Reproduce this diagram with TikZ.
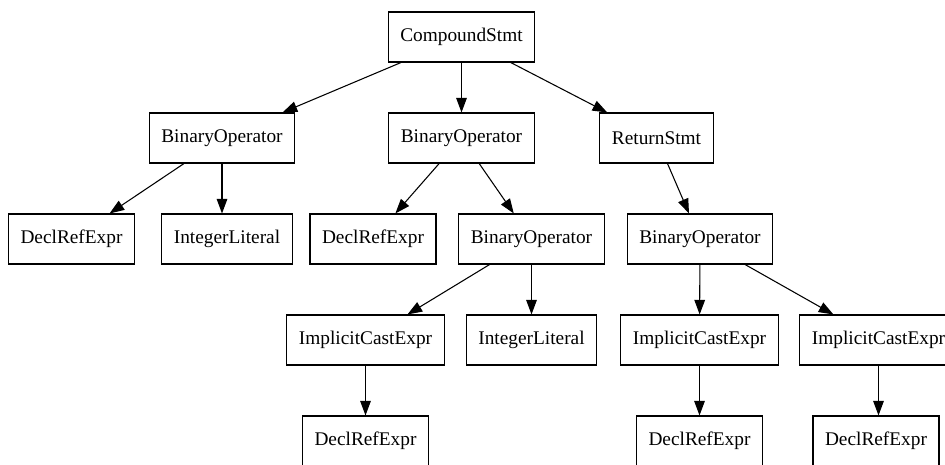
\documentclass[tikz,border=0pt]{standalone}
\usepackage{fontspec}
\setmainfont{Liberation Serif}
\usetikzlibrary{arrows.meta}
\begin{document}
\begin{tikzpicture}[x=0.75pt,y=-0.75pt,
  ast/.style={draw, line width=0.8pt, rectangle, inner xsep=9pt,
    minimum height=37.5pt, font=\fontsize{14.5}{16}\selectfont},
  edge/.style={line width=0.8pt, -{Triangle[length=11pt,width=8pt]}}]
\clip (0,0) rectangle (945,464);
\fill[white] (0,0) rectangle (945,464);
% statements
\node[ast] (cs)  at (461.5,37)  {CompoundStmt};
\node[ast] (bo1) at (222,138)   {BinaryOperator};
\node[ast] (bo2) at (461.5,138) {BinaryOperator};
\node[ast] (ret) at (656.5,138) {ReturnStmt};
% third level
\node[ast] (dr1) at (71.5,239)  {DeclRefExpr};
\node[ast] (il1) at (227,239)   {IntegerLiteral};
\node[ast] (dr2) at (373,239)   {DeclRefExpr};
\node[ast] (bo3) at (531.5,239) {BinaryOperator};
\node[ast] (bo4) at (700,239)   {BinaryOperator};
% fourth level
\node[ast] (ic1) at (365.5,340) {ImplicitCastExpr};
\node[ast] (il2) at (531.5,340) {IntegerLiteral};
\node[ast] (ic2) at (699.5,340) {ImplicitCastExpr};
\node[ast] (ic3) at (878.5,340) {ImplicitCastExpr};
% leaves
\node[ast] (dr3) at (365.5,441) {DeclRefExpr};
\node[ast] (dr4) at (699.5,441) {DeclRefExpr};
\node[ast] (dr5) at (876,441)   {DeclRefExpr};
% edges
\draw[edge] (cs) -- (bo1);
\draw[edge] (cs) -- (bo2);
\draw[edge] (cs) -- (ret);
\draw[edge] (bo1) -- (bo1 |- il1.north);
\draw[edge] (bo1) -- (dr1);
\draw[edge] (bo2) -- (dr2);
\draw[edge] (bo2) -- (bo3);
\draw[edge] (ret) -- (bo4);
\draw[edge] (bo3) -- (ic1);
\draw[edge] (bo3) -- (il2);
\draw[edge] (bo4) -- (ic2);
\draw[edge] (bo4) -- (ic3);
\draw[edge] (ic1) -- (dr3);
\draw[edge] (ic2) -- (dr4);
\draw[edge] (ic3) -- (ic3 |- dr5.north);
\end{tikzpicture}
\end{document}
